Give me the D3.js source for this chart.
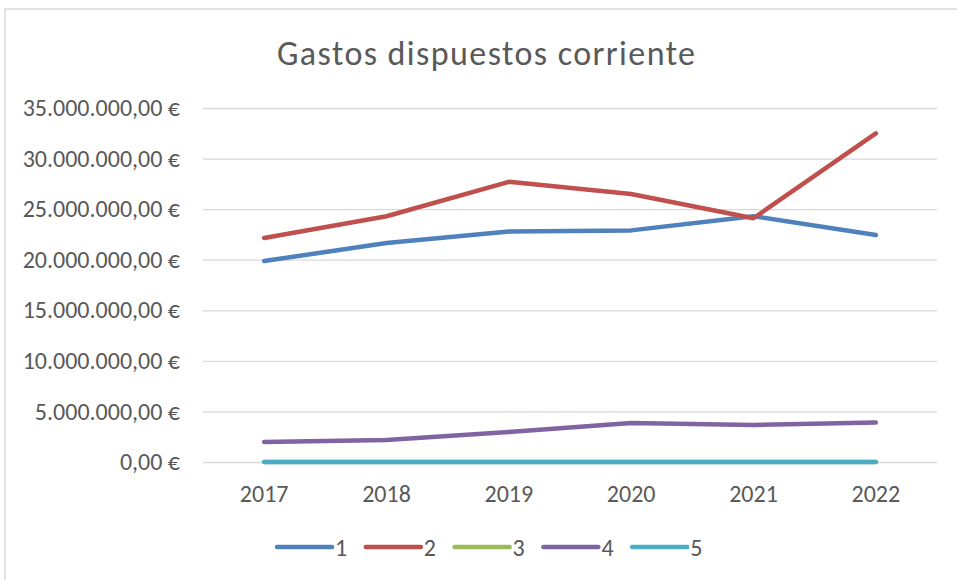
<!DOCTYPE html>
<html>
<head>
<meta charset="utf-8">
<script src="https://cdn.jsdelivr.net/npm/d3@7"></script>
<style>
  html, body { margin: 0; padding: 0; background: #fff; }
  svg { display: block; }
  text { font-family: Calibri, Carlito, Lato, "Open Sans", sans-serif; fill: #595959; }
</style>
</head>
<body>
<svg id="chart" width="957" height="580"></svg>
<script>
const years = ["2017", "2018", "2019", "2020", "2021", "2022"];
const seriesNames = ["1", "2", "3", "4", "5"];
const s1 = [19870000, 21650000, 22800000, 22900000, 24300000, 22440000];
const s2 = [22150000, 24300000, 27700000, 26500000, 24100000, 32500000];
const s3 = [0, 0, 0, 0, 0, 0];
const s4 = [1980000, 2180000, 2970000, 3850000, 3660000, 3900000];
const s5 = [0, 0, 0, 0, 0, 0];
const yTicks = [0, 5000000, 10000000, 15000000, 20000000, 25000000, 30000000, 35000000];
const colors = ["#4F81BD", "#C0504D", "#9BBB59", "#8064A2", "#4BACC6"];
const title = "Gastos dispuestos corriente";

const seriesValues = [s1, s2, s3, s4, s5];
const FONT = "Calibri, Carlito, Lato, 'Open Sans', sans-serif";

const svg = d3.select("#chart");

// chart area border
svg.append("path")
  .attr("d", "M5,580 L5,9 L957,9")
  .attr("fill", "none")
  .attr("stroke", "#d9d9d9")
  .attr("stroke-width", 1.5);

const plot = { left: 203, right: 937, top: 108, bottom: 462 };

const x = d3.scaleBand().domain(years).range([plot.left, plot.right]);
const y = d3.scaleLinear().domain([0, 35000000]).range([plot.bottom, plot.top]);

const fmt = v => {
  const s = d3.format(",.2f")(v);
  return s.replace(/,/g, "#").replace(".", ",").replace(/#/g, ".") + " €";
};

const yAxis = d3.axisLeft(y).tickValues(yTicks).tickSize(-(plot.right - plot.left)).tickPadding(23).tickFormat(fmt);
const gy = svg.append("g").attr("transform", `translate(${plot.left},0)`).call(yAxis);
gy.select(".domain").remove();
gy.selectAll(".tick line").attr("stroke", "#d9d9d9").attr("stroke-width", 1.3);
gy.selectAll(".tick text").attr("font-size", 24).attr("fill", "#595959")
  .style("font-family", FONT);

const xAxis = d3.axisBottom(x).tickSize(0).tickPadding(23);
const gx = svg.append("g").attr("transform", `translate(0,${plot.bottom})`).call(xAxis);
gx.select(".domain").remove();
gx.selectAll(".tick text").attr("font-size", 24).attr("fill", "#595959")
  .style("font-family", FONT);

const line = d3.line()
  .x((d, i) => x(years[i]) + x.bandwidth() / 2)
  .y(d => y(d));

seriesValues.forEach((vals, k) => {
  svg.append("path")
    .datum(vals)
    .attr("d", line)
    .attr("fill", "none")
    .attr("stroke", colors[k])
    .attr("stroke-width", 4.5)
    .attr("stroke-linecap", "round")
    .attr("stroke-linejoin", "round");
});

// title
svg.append("text")
  .attr("x", 486)
  .attr("y", 65)
  .attr("text-anchor", "middle")
  .attr("font-size", 34)
  .attr("textLength", 418)
  .attr("lengthAdjust", "spacing")
  .text(title);

// legend
const leg = svg.append("g");
seriesNames.forEach((name, k) => {
  const lx = 277 + k * 88.8;
  leg.append("line")
    .attr("x1", lx).attr("x2", lx + 55)
    .attr("y1", 547).attr("y2", 547)
    .attr("stroke", colors[k])
    .attr("stroke-width", 4.5)
    .attr("stroke-linecap", "round");
  leg.append("text")
    .attr("x", lx + 58)
    .attr("y", 556)
    .attr("font-size", 24)
    .text(name);
});
</script>
</body>
</html>
